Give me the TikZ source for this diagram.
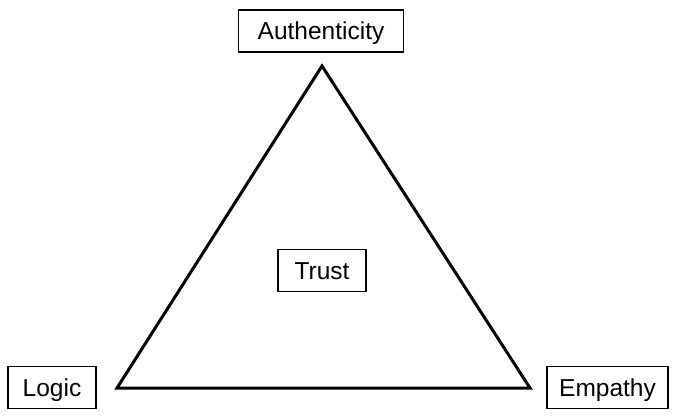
\documentclass[tikz,border=0pt]{standalone}
\usepackage{fontspec}
\setmainfont{Liberation Sans}
\begin{document}
\begin{tikzpicture}[x=1pt,y=-1pt,
  lbl/.style={draw, line width=1.3pt, minimum height=42pt, inner sep=0pt, text height=17.6pt, text depth=0pt, font=\fontsize{24.5}{28}\selectfont},
  tri/.style={line width=3pt, line join=miter}]
\useasboundingbox (0,0) rectangle (677,416);
\node[lbl, minimum width=165pt] (auth) at (321,31) {Authenticity};
\node[lbl, minimum width=88pt] (trust) at (322,270.5) {Trust};
\node[lbl, minimum width=88pt] (logic) at (52,387.5) {Logic};
\node[lbl, minimum width=121pt] (emp) at (607.5,387.5) {Empathy};
\coordinate (top) at (322,66);
\coordinate (bl) at (117,388);
\coordinate (br) at (530,388);
\draw[tri] (top) -- (bl) -- (br) -- cycle;
\end{tikzpicture}
\end{document}
